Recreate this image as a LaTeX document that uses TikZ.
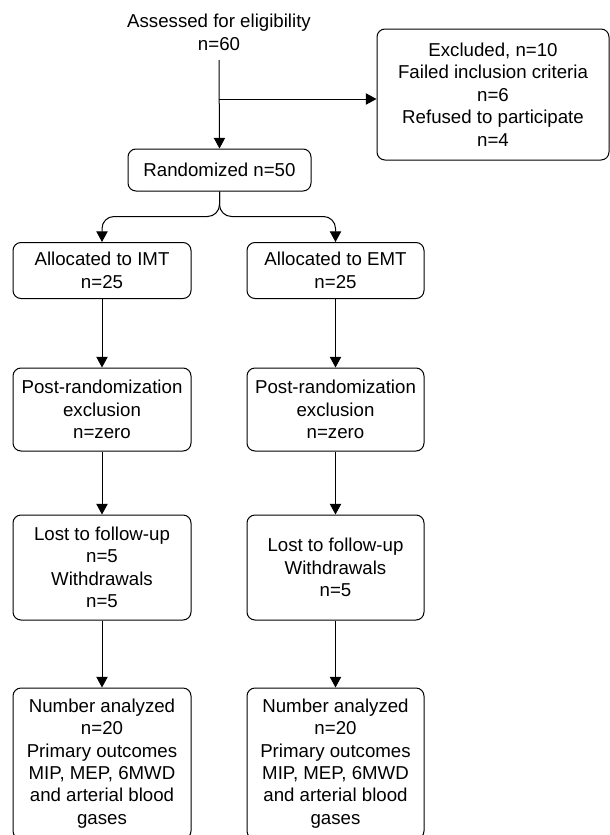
\documentclass[tikz,border=0pt]{standalone}
\usepackage{fontspec}
\setmainfont{Liberation Sans}
\usetikzlibrary{arrows.meta}
\begin{document}
\begin{tikzpicture}[x=0.75pt,y=-0.75pt,
  every node/.style={font=\fontsize{14}{16.8}\selectfont, align=center, inner sep=0pt},
  box/.style={draw, rounded corners=6pt, line width=0.75pt},
  colL/.style={minimum width=133.5pt},
  colR/.style={minimum width=132.75pt},
  arr/.style={line width=0.75pt, -{Triangle[length=8pt,width=8.5pt]}}]
\useasboundingbox (0,0) rectangle (610,835);
\node (assess) [minimum width=150pt, minimum height=41.25pt] at (219,32.5) {Assessed for eligibility\\n=60};
\node[box, minimum width=174pt, minimum height=98.25pt] (excl) at (493,94.5) {Excluded, n=10\\Failed inclusion criteria\\n=6\\Refused to participate\\n=4};
\node[box, minimum width=137.25pt, minimum height=31.5pt] (rand) at (219.5,170) {Randomized n=50};
\node[box, colL, minimum height=42pt] (imt) at (102,270.5) {Allocated to IMT\\n=25};
\node[box, colR, minimum height=42pt] (emt) at (335.5,270.5) {Allocated to EMT\\n=25};
\node[box, colL, minimum height=62.25pt] (postL) at (102,409.5) {Post-randomization\\exclusion\\n=zero};
\node[box, colR, minimum height=62.25pt] (postR) at (335.5,409.5) {Post-randomization\\exclusion\\n=zero};
\node[box, colL, minimum height=78.75pt] (lostL) at (102,567.5) {Lost to follow-up\\n=5\\Withdrawals\\n=5};
\node[box, colR, minimum height=78.75pt] (lostR) at (335.5,567.5) {Lost to follow-up\\Withdrawals\\n=5};
\node[box, colL, minimum height=113.25pt] (numL) at (102,763.5) {Number analyzed\\n=20\\Primary outcomes\\MIP, MEP, 6MWD\\and arterial blood\\gases};
\node[box, colR, minimum height=113.25pt] (numR) at (335.5,763.5) {Number analyzed\\n=20\\Primary outcomes\\MIP, MEP, 6MWD\\and arterial blood\\gases};
\coordinate (branch) at (219,99);
\coordinate (stem) at (219,60);
\draw[arr] (stem) -- (rand.north);
\draw[arr] (branch) -- (branch -| excl.west);
\draw[arr, rounded corners=9pt] (rand.south) -- ++(0,25) -| (imt.north);
\draw[arr, rounded corners=9pt] (rand.south) -- ++(0,25) -| (emt.north);
\draw[arr] (imt.south) -- (postL.north);
\draw[arr] (emt.south) -- (postR.north);
\draw[arr] (postL.south) -- (lostL.north);
\draw[arr] (postR.south) -- (lostR.north);
\draw[arr] (lostL.south) -- (numL.north);
\draw[arr] (lostR.south) -- (numR.north);
\end{tikzpicture}
\end{document}
